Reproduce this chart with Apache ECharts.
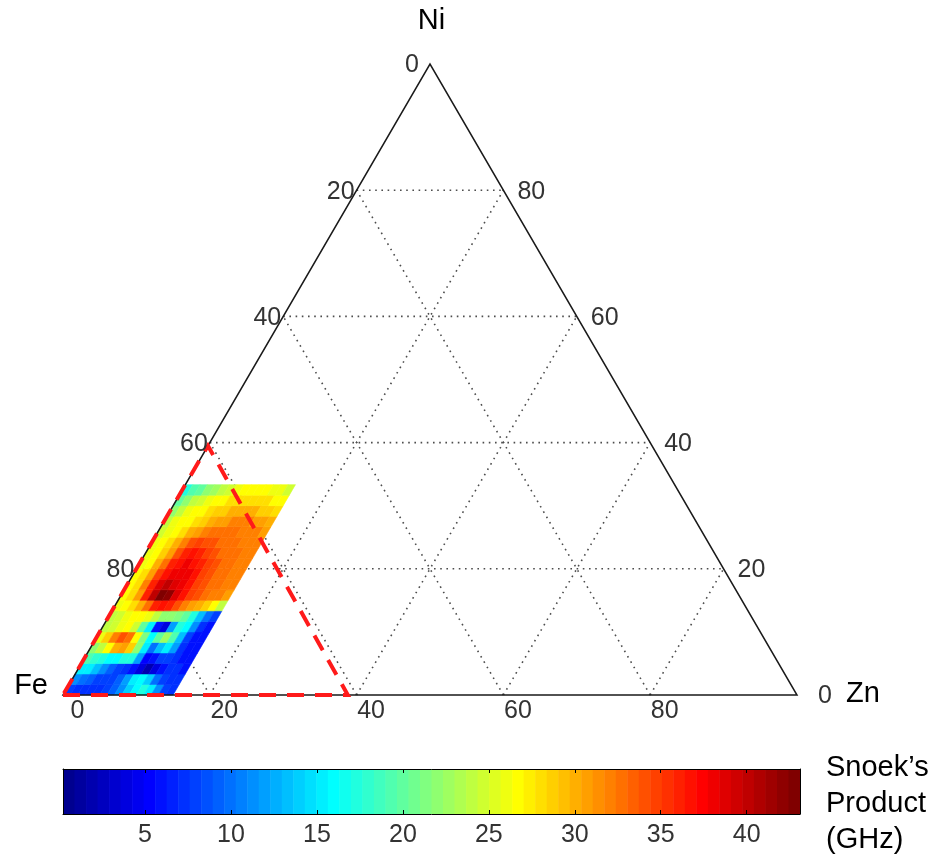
<!DOCTYPE html>
<html>
<head>
<meta charset="utf-8">
<script src="https://cdn.jsdelivr.net/npm/echarts@6/dist/echarts.min.js"></script>
<style>
  html, body { margin: 0; padding: 0; background: #fff; }
  #chart { width: 937px; height: 856px; }
</style>
</head>
<body>
<div id="chart"></div>
<script>
// ---- data -------------------------------------------------------------
// Corner components of the ternary diagram: [Fe, Zn, Ni] corners
const vertexNames = ['Fe', 'Zn', 'Ni'];
// Grid levels (fractions)
const gridLevels = [0.2, 0.4, 0.6, 0.8];
// Tick labels along the three edges (percent)
const leftTicks = [0, 20, 40, 60, 80];     // Fe-Ni edge, read as 100 - Ni
const rightTicks = [80, 60, 40, 20, 0];    // Ni-Zn edge, Ni percent
const bottomTicks = [0, 20, 40, 60, 80];   // Fe-Zn edge, Zn percent

// Measured Snoek's product (GHz) over the Fe-rich corner.
// Rows run upward from Ni = 0 in steps of 1/60; columns run from Zn = 0 in steps of 0.01.
const heatZnStep = 0.01;
const heatNiStep = 1 / 60;
const snoekProduct = [
  [8, 7, 7, 7, 7, 8, 9, 11, 14, 16, 17, 15, 11, 8, 7],
  [11, 10, 9, 8, 8, 8, 9, 12, 15, 16, 14, 10, 8, 7, 7],
  [15, 15, 13, 11, 9, 8, 7, 6, 4, 2, 4, 6, 7, 7, 6],
  [19, 18, 17, 16, 16, 17, 17, 12, 5, 6, 8, 8, 7, 6, 6],
  [22, 24, 27, 30, 31, 29, 22, 15, 10, 13, 15, 12, 7, 6, 6],
  [26, 29, 32, 34, 33, 27, 21, 16, 20, 23, 19, 13, 8, 6, 6],
  [24, 25, 26, 27, 25, 20, 15, 6, 4, 12, 17, 16, 11, 7, 6],
  [24, 25, 26, 27, 27, 26, 24, 22, 22, 21, 20, 17, 13, 10, 8],
  [26, 27, 28, 30, 33, 36, 37, 36, 34, 32, 31, 30, 29, 27, 24],
  [27, 28, 31, 36, 40, 43, 42, 39, 37, 35, 34, 33, 32, 32, 31],
  [27, 28, 32, 36, 39, 40, 39, 38, 37, 35, 34, 33, 33, 32, 32],
  [27, 28, 31, 35, 37, 38, 38, 38, 37, 35, 34, 33, 33, 32, 32],
  [26, 27, 30, 33, 36, 37, 38, 37, 36, 35, 34, 33, 33, 32, 32],
  [26, 27, 29, 31, 34, 36, 37, 36, 35, 34, 33, 33, 33, 32, 32],
  [26, 27, 28, 30, 32, 34, 35, 34, 34, 33, 33, 33, 32, 32, 32],
  [25, 26, 27, 28, 30, 31, 32, 33, 33, 33, 33, 32, 32, 32, 31],
  [24, 26, 27, 27, 28, 29, 30, 31, 31, 32, 32, 32, 31, 31, 30],
  [22, 24, 26, 27, 27, 28, 29, 29, 30, 30, 30, 30, 29, 29, 28],
  [20, 22, 24, 25, 26, 27, 27, 28, 28, 28, 28, 28, 28, 27, 27],
  [17, 19, 20, 22, 23, 24, 25, 26, 27, 27, 27, 27, 26, 26, 25]
];

// Outlined Fe-rich region, corners as [Zn, Ni] fractions
const regionCorners = [[0, 0], [0.388, 0], [0, 0.395]];

// Colour scale
const cbarMin = 0.23;
const cbarMax = 43.1;
const cbarTicks = [5, 10, 15, 20, 25, 30, 35, 40];
const cbarTitle = 'Snoek\u2019s\nProduct\n(GHz)';

// ---- helpers ----------------------------------------------------------
const H = Math.sqrt(3) / 2;
const FONT = '"Liberation Sans", Arial, Helvetica, sans-serif';
const NCOL = 64;

// Ternary (Zn, Ni) -> planar coordinates of the equilateral triangle
function tern(zn, ni) { return [zn + ni / 2, ni * H]; }

// MATLAB-style 64 step jet colour map, index 1..64
function jetColor(idx) {
  const u = k => (k <= 16 ? k / 16 : (k <= 31 ? 1 : (48 - k) / 16));
  const r = idx >= 25 ? u(idx - 24) : 0;
  const g = (idx >= 9 && idx <= 55) ? u(idx - 8) : 0;
  const b = idx <= 39 ? u(idx + 8) : 0;
  const c = v => Math.round(Math.max(0, Math.min(1, v)) * 255);
  return 'rgb(' + c(r) + ',' + c(g) + ',' + c(b) + ')';
}
function valueColor(v) {
  let i = Math.floor((v - cbarMin) / (cbarMax - cbarMin) * NCOL) + 1;
  i = Math.max(1, Math.min(NCOL, i));
  return jetColor(i);
}

// Grid segments [zn1, ni1, zn2, ni2]
const gridSegments = [];
gridLevels.forEach(v => {
  gridSegments.push([0, v, 1 - v, v]);       // constant Ni
  gridSegments.push([v, 0, v, 1 - v]);       // constant Zn
  gridSegments.push([1 - v, 0, 0, 1 - v]);   // constant Fe
});

// Heat-map cells [zn0, ni0, value]
const heatCells = [];
snoekProduct.forEach((row, r) => {
  row.forEach((val, c) => {
    heatCells.push([c * heatZnStep, r * heatNiStep, val]);
  });
});

// Colour bar bands
const bandWidth = (cbarMax - cbarMin) / NCOL;
const bands = [];
for (let i = 0; i < NCOL; i++) bands.push([cbarMin + i * bandWidth, i]);

// Tick label anchor points [zn, ni]
const leftPts = leftTicks.map(t => [0, 1 - t / 100]);
const rightPts = rightTicks.map(t => [1 - t / 100, t / 100]);
const bottomPts = bottomTicks.map(t => [t / 100, 0]);
const vertexPts = [[0, 0], [1, 0], [0, 1]];

const chart = echarts.init(document.getElementById('chart'), null, { renderer: 'canvas' });

function textSeries(name, pts, texts, place, style) {
  return {
    type: 'custom', name: name, xAxisIndex: 0, yAxisIndex: 0, z: 10,
    data: pts,
    renderItem: (params, api) => {
      const p = api.coord(tern(api.value(0), api.value(1)));
      const o = place(params.dataIndex, pts[params.dataIndex]);
      return {
        type: 'text', x: p[0] + o.dx, y: p[1] + o.dy,
        style: Object.assign({ text: String(texts[params.dataIndex]), verticalAlign: 'middle', fontFamily: FONT }, style, { align: o.align })
      };
    }
  };
}

const tickStyle = { fill: '#333', fontSize: 25 };
const axisLabelStyle = { fill: '#000', fontSize: 29 };

const option = {
  animation: false,
  backgroundColor: '#fff',
  grid: [
    { left: 63, top: 64, width: 734, height: 631 },
    { left: 63, top: 769, width: 737, height: 45 }
  ],
  xAxis: [
    { gridIndex: 0, type: 'value', min: 0, max: 1, show: false },
    {
      gridIndex: 1, type: 'value', min: cbarMin, max: cbarMax, position: 'bottom', z: 5,
      axisLine: { show: true, onZero: false, lineStyle: { color: '#000', width: 1 } },
      axisTick: { show: true, inside: true, length: 4, customValues: cbarTicks, lineStyle: { color: '#000', width: 1 } },
      axisLabel: { show: true, customValues: cbarTicks, margin: 9, color: '#333', fontSize: 25, fontFamily: FONT },
      splitLine: { show: false }
    },
    {
      gridIndex: 1, type: 'value', min: cbarMin, max: cbarMax, position: 'top', z: 5,
      axisLine: { show: true, onZero: false, lineStyle: { color: '#000', width: 1 } },
      axisTick: { show: true, inside: true, length: 4, customValues: cbarTicks, lineStyle: { color: '#000', width: 1 } },
      axisLabel: { show: false },
      splitLine: { show: false }
    }
  ],
  yAxis: [
    { gridIndex: 0, type: 'value', min: 0, max: H, show: false },
    {
      gridIndex: 1, type: 'value', min: 0, max: 1, position: 'left', z: 5,
      axisLine: { show: true, onZero: false, lineStyle: { color: '#000', width: 1 } },
      axisTick: { show: false }, axisLabel: { show: false }, splitLine: { show: false }
    },
    {
      gridIndex: 1, type: 'value', min: 0, max: 1, position: 'right', z: 5,
      axisLine: { show: true, onZero: false, lineStyle: { color: '#000', width: 1 } },
      axisTick: { show: false }, axisLabel: { show: false }, splitLine: { show: false }
    }
  ],
  graphic: [
    {
      type: 'text', left: 826, top: 750, z: 10,
      style: { text: cbarTitle, fill: '#000', fontSize: 29, fontFamily: FONT, lineHeight: 36 }
    }
  ],
  series: [
    // dotted grid
    {
      type: 'custom', name: 'grid', xAxisIndex: 0, yAxisIndex: 0, z: 1,
      data: gridSegments,
      renderItem: (params, api) => {
        const a = api.coord(tern(api.value(0), api.value(1)));
        const b = api.coord(tern(api.value(2), api.value(3)));
        return {
          type: 'line', shape: { x1: a[0], y1: a[1], x2: b[0], y2: b[1] },
          style: { stroke: '#4d4d4d', lineWidth: 1.6, lineDash: [1.6, 4.6], fill: null }
        };
      }
    },
    // heat map cells
    {
      type: 'custom', name: 'snoek', xAxisIndex: 0, yAxisIndex: 0, z: 2,
      data: heatCells,
      renderItem: (params, api) => {
        const zn = api.value(0), ni = api.value(1), v = api.value(2);
        const pts = [
          api.coord(tern(zn, ni)),
          api.coord(tern(zn + heatZnStep, ni)),
          api.coord(tern(zn + heatZnStep, ni + heatNiStep)),
          api.coord(tern(zn, ni + heatNiStep))
        ];
        const col = valueColor(v);
        return {
          type: 'polygon', shape: { points: pts },
          style: { fill: col, stroke: col, lineWidth: 0.6 }
        };
      }
    },
    // triangle outline
    {
      type: 'custom', name: 'frame', xAxisIndex: 0, yAxisIndex: 0, z: 3,
      data: [[0]],
      renderItem: (params, api) => {
        const pts = vertexPts.map(p => api.coord(tern(p[0], p[1])));
        return {
          type: 'polygon', shape: { points: pts },
          style: { fill: null, stroke: '#1a1a1a', lineWidth: 1.5 }
        };
      }
    },
    // dashed outline of the Fe-rich region
    {
      type: 'custom', name: 'region', xAxisIndex: 0, yAxisIndex: 0, z: 4,
      data: [[0]],
      renderItem: (params, api) => {
        const pts = regionCorners.map(p => api.coord(tern(p[0], p[1])));
        return {
          type: 'polygon', shape: { points: pts },
          style: { fill: null, stroke: '#ff1a1a', lineWidth: 4, lineDash: [17, 11] }
        };
      }
    },
    // edge tick labels
    textSeries('leftTicks', leftPts, leftTicks,
      (i, p) => ({ dx: p[1] === 1 ? -11 : -2, dy: 1.5, align: 'right' }), tickStyle),
    textSeries('rightTicks', rightPts, rightTicks,
      (i, p) => ({ dx: p[1] === 0 ? 21 : 14, dy: 1.5, align: 'left' }), tickStyle),
    textSeries('bottomTicks', bottomPts, bottomTicks,
      () => ({ dx: 14.5, dy: 16, align: 'center' }), tickStyle),
    // corner names
    textSeries('vertices', vertexPts, vertexNames,
      i => [
        { dx: -15, dy: -9, align: 'right' },
        { dx: 49, dy: -1, align: 'left' },
        { dx: 1.5, dy: -43, align: 'center' }
      ][i], axisLabelStyle),
    // colour bar
    {
      type: 'custom', name: 'colorbar', xAxisIndex: 1, yAxisIndex: 1, z: 2,
      data: bands,
      renderItem: (params, api) => {
        const x0 = api.value(0);
        const a = api.coord([x0, 0]);
        const b = api.coord([x0 + bandWidth, 1]);
        const col = jetColor(api.value(1) + 1);
        return {
          type: 'rect',
          shape: { x: a[0], y: b[1], width: b[0] - a[0] + 0.5, height: a[1] - b[1] },
          style: { fill: col }
        };
      }
    }
  ]
};

chart.setOption(option);
</script>
</body>
</html>
